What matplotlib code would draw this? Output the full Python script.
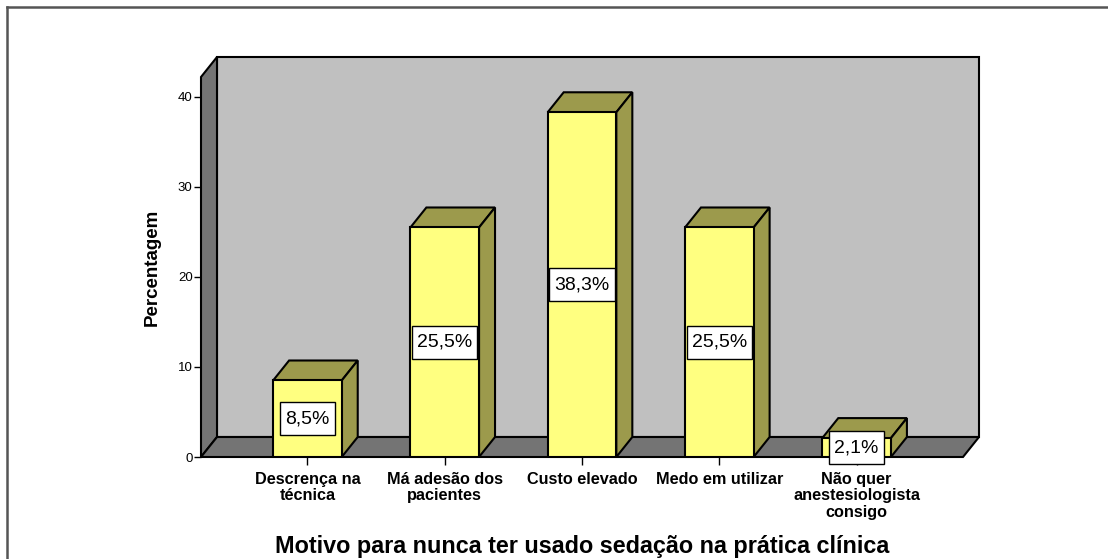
import matplotlib.pyplot as plt
from matplotlib.patches import Polygon, Rectangle
from matplotlib.lines import Line2D

plt.rcParams['font.family'] = ['Liberation Sans', 'DejaVu Sans']

# data
categories = ['Descrença na\ntécnica', 'Má adesão dos\npacientes', 'Custo elevado',
              'Medo em utilizar', 'Não quer\nanestesiologista\nconsigo']
percentages = [8.5, 25.5, 38.3, 25.5, 2.1]
yticks = [0, 10, 20, 30, 40]

# colours
front_col = '#ffff80'
shade_col = '#9c9a4c'
wall_col = '#c0c0c0'
dark_col = '#747474'

W, H = 1108, 559
fig = plt.figure(figsize=(W / 100, H / 100), dpi=100)

# outer frame lines (top and left only visible)
fig.add_artist(Line2D([6.5 / W, 1.0], [1 - 6.5 / H, 1 - 6.5 / H], color='#555555', lw=1.8))
fig.add_artist(Line2D([6.5 / W, 6.5 / W], [0.0, 1 - 6.5 / H], color='#555555', lw=1.8))

ax_left, ax_right, ax_bot, ax_top = 201, 963, 457, 77
ax = fig.add_axes([ax_left / W, (H - ax_bot) / H, (ax_right - ax_left) / W, (ax_bot - ax_top) / H])

xmin, xmax = -0.775, 4.775
ymax = 42.22
ax.set_xlim(xmin, xmax)
ax.set_ylim(0, ymax)

px_x = (ax_right - ax_left) / (xmax - xmin)   # pixels per x unit
px_y = (ax_bot - ax_top) / ymax               # pixels per y unit

# 3d depth offset in data units
dx = 16 / px_x
dy = 20 / px_y

# back wall
ax.add_patch(Rectangle((xmin + dx, dy), xmax - xmin, ymax, facecolor=wall_col,
                       edgecolor='black', lw=1.5, clip_on=False, zorder=0))
# left wall
ax.add_patch(Polygon([(xmin, 0), (xmin + dx, dy), (xmin + dx, ymax + dy), (xmin, ymax)],
                     closed=True, facecolor=dark_col, edgecolor='black', lw=1.5,
                     clip_on=False, zorder=0.5))
# floor
ax.add_patch(Polygon([(xmin, 0), (xmax, 0), (xmax + dx, dy), (xmin + dx, dy)],
                     closed=True, facecolor=dark_col, edgecolor='black', lw=1.5,
                     clip_on=False, zorder=0.5))

x = list(range(len(categories)))
bars = ax.bar(x, percentages, width=0.5, color=front_col, edgecolor='black', lw=1.5, zorder=2)
for b in bars:
    x0 = b.get_x()
    x1 = x0 + b.get_width()
    h = b.get_height()
    ax.add_patch(Polygon([(x0, h), (x1, h), (x1 + dx, h + dy), (x0 + dx, h + dy)], closed=True,
                         facecolor=shade_col, edgecolor='black', lw=1.5, clip_on=False, zorder=1.9))
    ax.add_patch(Polygon([(x1, 0), (x1 + dx, dy), (x1 + dx, h + dy), (x1, h)], closed=True,
                         facecolor=shade_col, edgecolor='black', lw=1.5, clip_on=False, zorder=1.9))

# value labels in white boxes sized to the text
fig.canvas.draw()
renderer = fig.canvas.get_renderer()
box_h = 33 / px_y
for xi, v in zip(x, percentages):
    t = ax.text(xi, v / 2, f'{v:.1f}%'.replace('.', ','), ha='center', va='center',
                fontsize=14, zorder=5)
    tw = t.get_window_extent(renderer).width
    box_w = (tw + 10) / px_x
    ax.add_patch(Rectangle((xi - box_w / 2, v / 2 - box_h / 2), box_w, box_h, facecolor='white',
                           edgecolor='black', lw=1, clip_on=False, zorder=4))

for s in ax.spines.values():
    s.set_visible(False)

ax.set_yticks(yticks)
ax.tick_params(axis='y', direction='out', length=5, width=1, labelsize=9.5, pad=1)
ax.set_xticks(x)
ax.set_xticklabels(categories, fontweight='bold', fontsize=11.7, linespacing=1.1)
ax.tick_params(axis='x', direction='out', length=6, width=1, pad=5)
ax.set_ylabel('Percentagem', fontweight='bold', fontsize=13.5, labelpad=12)
ax.set_xlabel('Motivo para nunca ter usado sedação na prática clínica', fontweight='bold',
              fontsize=16.8, labelpad=11)
ax.set_facecolor('none')

fig.savefig('out.png', dpi=100)
